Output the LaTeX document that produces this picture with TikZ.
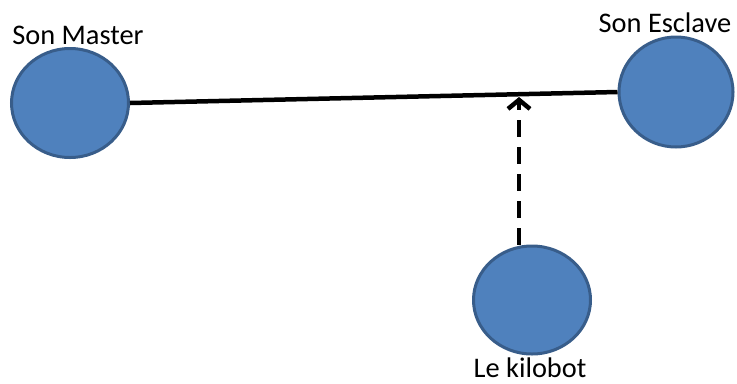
\documentclass[tikz,border=0pt]{standalone}
\usepackage{fontspec}
\setmainfont{Carlito}
\usetikzlibrary{arrows.meta,shapes.geometric}
\definecolor{robotfill}{HTML}{4F81BD}
\definecolor{robotedge}{HTML}{385D8A}
\tikzset{
  robot/.style={ellipse, draw=robotedge, fill=robotfill, line width=3bp, inner sep=0pt},
  lbl/.style={font=\fontsize{28.5}{32}\selectfont, inner sep=0pt, anchor=base, text depth=0pt},
  link/.style={line width=4.5bp, black},
  sensing/.style={line width=4.5bp, black, dash pattern=on 17bp off 10bp,
    -{Straight Barb[length=9bp, width=22bp, line width=4.5bp]}}
}
\begin{document}
\begin{tikzpicture}[x=1bp, y=-1bp]
  \useasboundingbox (0,0) rectangle (737,383);
  % the three robots
  \node[robot, minimum width=117bp, minimum height=109bp] (master) at (70,103) {};
  \node[robot, minimum width=114bp, minimum height=110bp] (slave) at (676,92) {};
  \node[robot, minimum width=117bp, minimum height=108bp] (kilo) at (532,300) {};
  % labels
  \node[lbl] (tmaster) at (78,44) {Son Master};
  \node[lbl] (tslave) at (665,32) {Son Esclave};
  \node[lbl] (tkilo) at (530,377) {Le kilobot};
  % master-slave link and the kilobot's sensing direction
  \draw[link] (master.east) -- (slave.west);
  \coordinate (target) at (519,97);
  \draw[sensing] (kilo.north -| target) -- (target);
\end{tikzpicture}
\end{document}
